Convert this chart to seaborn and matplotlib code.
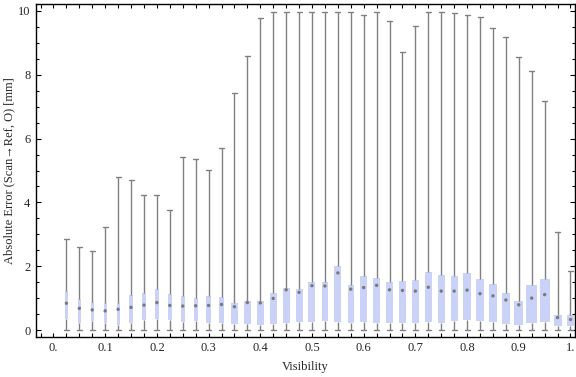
import numpy as np
import pandas as pd
import matplotlib.pyplot as plt
from matplotlib.ticker import FixedLocator, MultipleLocator
import seaborn as sns

# ---------------------------------------------------------------------
# data (five-number summary per visibility bin)
# ---------------------------------------------------------------------
visibility = [0.025, 0.05, 0.075, 0.1, 0.125, 0.15, 0.175, 0.2, 0.225, 0.25,
              0.275, 0.3, 0.325, 0.35, 0.375, 0.4, 0.425, 0.45, 0.475, 0.5,
              0.525, 0.55, 0.575, 0.6, 0.625, 0.65, 0.675, 0.7, 0.725, 0.75,
              0.775, 0.8, 0.825, 0.85, 0.875, 0.9, 0.925, 0.95, 0.975, 1.0]
err_min = [0.0] * 40
err_q1 = [0.35, 0.23, 0.27, 0.21, 0.16, 0.23, 0.31, 0.34, 0.31, 0.26,
          0.29, 0.23, 0.23, 0.19, 0.19, 0.16, 0.20, 0.23, 0.25, 0.26,
          0.29, 0.26, 0.23, 0.26, 0.23, 0.23, 0.23, 0.23, 0.26, 0.23,
          0.29, 0.32, 0.29, 0.26, 0.20, 0.17, 0.23, 0.26, 0.14, 0.14]
err_median = [0.84, 0.68, 0.63, 0.60, 0.65, 0.71, 0.78, 0.86, 0.77, 0.75,
              0.76, 0.77, 0.80, 0.73, 0.86, 0.85, 0.99, 1.26, 1.18, 1.39,
              1.38, 1.79, 1.28, 1.33, 1.40, 1.26, 1.24, 1.22, 1.34, 1.22,
              1.22, 1.25, 1.14, 1.07, 0.94, 0.79, 1.00, 1.11, 0.39, 0.33]
err_q3 = [1.23, 0.97, 0.87, 0.84, 0.84, 1.09, 1.15, 1.29, 1.13, 1.07,
          1.01, 1.07, 1.03, 0.85, 0.91, 0.91, 1.16, 1.32, 1.29, 1.50,
          1.50, 2.01, 1.41, 1.69, 1.63, 1.50, 1.54, 1.57, 1.82, 1.72,
          1.69, 1.79, 1.60, 1.44, 1.16, 0.91, 1.41, 1.60, 0.47, 0.47]
err_max = [2.85, 2.60, 2.48, 3.23, 4.81, 4.70, 4.23, 4.23, 3.76, 5.43,
           5.36, 5.02, 5.70, 7.43, 8.59, 9.78, 9.97, 9.97, 9.97, 9.97,
           9.97, 9.97, 9.97, 9.87, 9.97, 9.69, 8.70, 9.52, 9.98, 9.98,
           9.95, 9.87, 9.80, 9.46, 9.18, 8.55, 8.11, 7.17, 3.06, 1.85]

x_ticks = [0.0, 0.1, 0.2, 0.3, 0.4, 0.5, 0.6, 0.7, 0.8, 0.9, 1.0]
x_tick_labels = ["0.", "0.1", "0.2", "0.3", "0.4", "0.5", "0.6", "0.7", "0.8", "0.9", "1."]
y_ticks = [0, 2, 4, 6, 8, 10]
y_tick_labels = ["0", "2", "4", "6", "8", "10"]

# long form: 5 points per bin -> quartiles land exactly on the summary values
rows = []
for v, lo, a, m, b, hi in zip(visibility, err_min, err_q1, err_median, err_q3, err_max):
    for e in (lo, a, m, b, hi):
        rows.append({"visibility": v, "error": e})
df = pd.DataFrame(rows)

# ---------------------------------------------------------------------
# style
# ---------------------------------------------------------------------
sns.set_style("ticks")
plt.rcParams["font.family"] = ["Liberation Serif", "DejaVu Serif"]
plt.rcParams["font.size"] = 9

box_color = "#cbd2f7"
line_color = "#808080"
# box widths as a fraction of the bin spacing (boxes get wider to the right)
box_frac = [0.23, 0.19, 0.23, 0.23, 0.23, 0.26, 0.27, 0.31, 0.33, 0.33,
            0.33, 0.37, 0.39, 0.49, 0.50, 0.54, 0.54, 0.54, 0.54, 0.54,
            0.50, 0.54, 0.47, 0.50, 0.50, 0.52, 0.49, 0.57, 0.57, 0.54,
            0.54, 0.57, 0.57, 0.62, 0.67, 0.70, 0.83, 0.78, 0.62, 0.54]

fig = plt.figure(figsize=(5.76, 3.77), dpi=100)
ax = fig.add_axes([36 / 576, 1 - 336.7 / 377, 539.3 / 576, 332.4 / 377])

for (v, grp), frac in zip(df.groupby("visibility"), box_frac):
    sns.boxplot(
        data=grp, x="visibility", y="error", orient="x", native_scale=True,
        width=frac * 0.025, whis=np.inf, color=box_color, saturation=1,
        linecolor=line_color, linewidth=1.0, capwidths=0.0097,
        boxprops={"edgecolor": "none", "linewidth": 0},
        medianprops={"visible": False}, ax=ax,
    )

sns.scatterplot(x=visibility, y=err_median, color="#7a7a7a", s=6,
                marker="o", edgecolor="none", zorder=5, legend=False, ax=ax)

ax.set_xlim(-0.0338, 1.0093)
ax.set_ylim(-0.21, 10.21)

ax.xaxis.set_major_locator(FixedLocator(x_ticks))
ax.set_xticklabels(x_tick_labels)
ax.xaxis.set_minor_locator(MultipleLocator(0.025))
ax.yaxis.set_major_locator(FixedLocator(y_ticks))
ax.set_yticklabels(y_tick_labels)
ax.yaxis.set_minor_locator(MultipleLocator(0.5))

ax.tick_params(which="both", direction="in", top=True, right=True,
               width=0.8, color="black", labelsize=9)
ax.tick_params(axis="x", which="major", length=3.0, pad=3.5)
ax.tick_params(axis="x", which="minor", length=2.6)
ax.tick_params(axis="y", which="major", length=3.3, pad=4)
ax.tick_params(axis="y", which="minor", length=2.0)

for s in ax.spines.values():
    s.set_linewidth(1.0)
    s.set_color("black")

ax.set_xlabel("Visibility", fontsize=9, labelpad=5)
ax.set_ylabel("Absolute Error (Scan\u2192Ref, O) [mm]", fontsize=9, labelpad=2)

fig.savefig("out.png", dpi=100)
